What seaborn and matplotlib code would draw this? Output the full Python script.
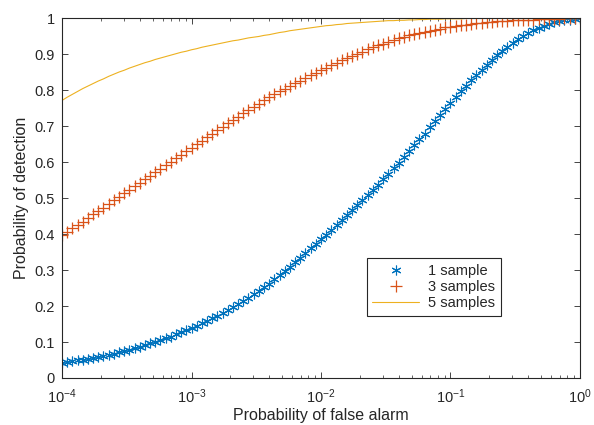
import numpy as np
import pandas as pd
import matplotlib
matplotlib.use("Agg")
import matplotlib.pyplot as plt
import seaborn as sns

# sampling grid of false-alarm probabilities (101 points, 1e-4 .. 1)
pfa = np.logspace(-4, 0, 101)

pd_1 = [0.043, 0.045, 0.047, 0.049, 0.051, 0.054, 0.057, 0.059, 0.062, 0.065,
        0.068, 0.071, 0.075, 0.079, 0.083, 0.087, 0.091, 0.096, 0.100, 0.105,
        0.110, 0.115, 0.121, 0.127, 0.133, 0.139, 0.145, 0.152, 0.159, 0.166,
        0.173, 0.181, 0.189, 0.197, 0.205, 0.214, 0.223, 0.233, 0.242, 0.252,
        0.262, 0.274, 0.286, 0.298, 0.310, 0.323, 0.335, 0.348, 0.361, 0.373,
        0.386, 0.399, 0.413, 0.426, 0.440, 0.453, 0.467, 0.481, 0.495, 0.509,
        0.523, 0.538, 0.553, 0.568, 0.583, 0.598, 0.614, 0.631, 0.647, 0.664,
        0.680, 0.697, 0.714, 0.731, 0.748, 0.765, 0.781, 0.797, 0.813, 0.828,
        0.843, 0.857, 0.871, 0.885, 0.898, 0.910, 0.921, 0.932, 0.942, 0.951,
        0.960, 0.967, 0.974, 0.980, 0.985, 0.989, 0.992, 0.995, 0.997, 0.999,
        1.000]

pd_3 = [0.397, 0.407, 0.416, 0.426, 0.435, 0.445, 0.455, 0.465, 0.474, 0.484,
        0.494, 0.504, 0.514, 0.523, 0.533, 0.543, 0.553, 0.563, 0.572, 0.582,
        0.592, 0.602, 0.612, 0.621, 0.631, 0.641, 0.651, 0.660, 0.670, 0.679,
        0.689, 0.698, 0.708, 0.717, 0.727, 0.736, 0.745, 0.754, 0.763, 0.772,
        0.781, 0.789, 0.797, 0.805, 0.813, 0.820, 0.827, 0.835, 0.842, 0.849,
        0.856, 0.863, 0.870, 0.877, 0.884, 0.890, 0.896, 0.902, 0.908, 0.914,
        0.920, 0.925, 0.930, 0.935, 0.940, 0.945, 0.949, 0.953, 0.956, 0.960,
        0.963, 0.966, 0.969, 0.972, 0.975, 0.977, 0.979, 0.981, 0.983, 0.985,
        0.987, 0.988, 0.990, 0.991, 0.992, 0.993, 0.994, 0.995, 0.996, 0.996,
        0.997, 0.997, 0.998, 0.998, 0.999, 0.999, 0.999, 1.000, 1.000, 1.000,
        1.000]

pd_5 = [0.772, 0.781, 0.789, 0.797, 0.805, 0.812, 0.819, 0.826, 0.832, 0.839,
        0.845, 0.851, 0.856, 0.862, 0.867, 0.872, 0.877, 0.881, 0.886, 0.890,
        0.894, 0.898, 0.902, 0.906, 0.909, 0.913, 0.916, 0.920, 0.923, 0.926,
        0.929, 0.932, 0.935, 0.938, 0.940, 0.943, 0.946, 0.948, 0.950, 0.953,
        0.955, 0.958, 0.961, 0.963, 0.966, 0.968, 0.970, 0.972, 0.974, 0.976,
        0.978, 0.980, 0.981, 0.983, 0.984, 0.986, 0.987, 0.988, 0.989, 0.990,
        0.991, 0.992, 0.993, 0.994, 0.994, 0.995, 0.995, 0.996, 0.996, 0.997,
        0.997, 0.998, 0.998, 0.998, 0.999, 0.999, 0.999, 0.999, 1.000, 1.000,
        1.000, 1.000, 1.000, 1.000, 1.000, 1.000, 1.000, 1.000, 1.000, 1.000,
        1.000, 1.000, 1.000, 1.000, 1.000, 1.000, 1.000, 1.000, 1.000, 1.000,
        1.000]

labels = ["1 sample", "3 samples", "5 samples"]
colors = ["#0072BD", "#D95319", "#EDB120"]

df = pd.DataFrame({"pfa": pfa, "1": pd_1, "3": pd_3, "5": pd_5})

sns.set_style("ticks")
plt.rcParams["font.family"] = ["Liberation Sans", "DejaVu Sans"]
plt.rcParams["mathtext.fontset"] = "custom"
plt.rcParams["mathtext.rm"] = "Liberation Sans"
plt.rcParams["mathtext.it"] = "Liberation Sans:italic"

fig = plt.figure(figsize=(5.94, 4.25), dpi=100)
ax = fig.add_axes([0.1044, 0.1106, 0.872, 0.8459])

sns.lineplot(data=df, x="pfa", y="1", ax=ax, color=colors[0], marker=(6, 2, 0),
             markersize=7, markeredgewidth=0.8, markeredgecolor=colors[0],
             linestyle="", label=labels[0])
sns.lineplot(data=df, x="pfa", y="3", ax=ax, color=colors[1], marker="+",
             markersize=8, markeredgewidth=0.9, markeredgecolor=colors[1],
             linestyle="", label=labels[1])
sns.lineplot(data=df, x="pfa", y="5", ax=ax, color=colors[2],
             linewidth=0.8, label=labels[2])

ax.set_xscale("log")
ax.set_xlim(1e-4, 1)
ax.set_ylim(0, 1)
ax.set_xticks([1e-4, 1e-3, 1e-2, 1e-1, 1])
ax.set_yticks(np.arange(0, 1.01, 0.1))
ax.set_yticklabels(["0", "0.1", "0.2", "0.3", "0.4", "0.5", "0.6", "0.7", "0.8", "0.9", "1"])

dark = "#262626"
ax.tick_params(which="both", direction="in", top=True, right=True,
               colors=dark, labelsize=10.5)
ax.tick_params(which="major", length=4, width=0.6)
ax.tick_params(axis="y", which="major", pad=5)
ax.tick_params(axis="x", which="major", pad=7)
ax.tick_params(which="minor", length=2.5, width=0.5)
for s in ax.spines.values():
    s.set_color(dark)
    s.set_linewidth(0.8)

ax.set_xlabel("Probability of false alarm", fontsize=11.5, color=dark, labelpad=1)
ax.set_ylabel("Probability of detection", fontsize=11.5, color=dark, labelpad=4)

leg = ax.legend(loc="lower left", bbox_to_anchor=(0.574, 0.152), fontsize=10.5,
                frameon=True, fancybox=False, framealpha=1, edgecolor=dark,
                borderpad=0.4, handlelength=3.2, labelspacing=0.15,
                handletextpad=0.6)
leg.get_frame().set_linewidth(0.8)

fig.savefig("out.png", dpi=100)
